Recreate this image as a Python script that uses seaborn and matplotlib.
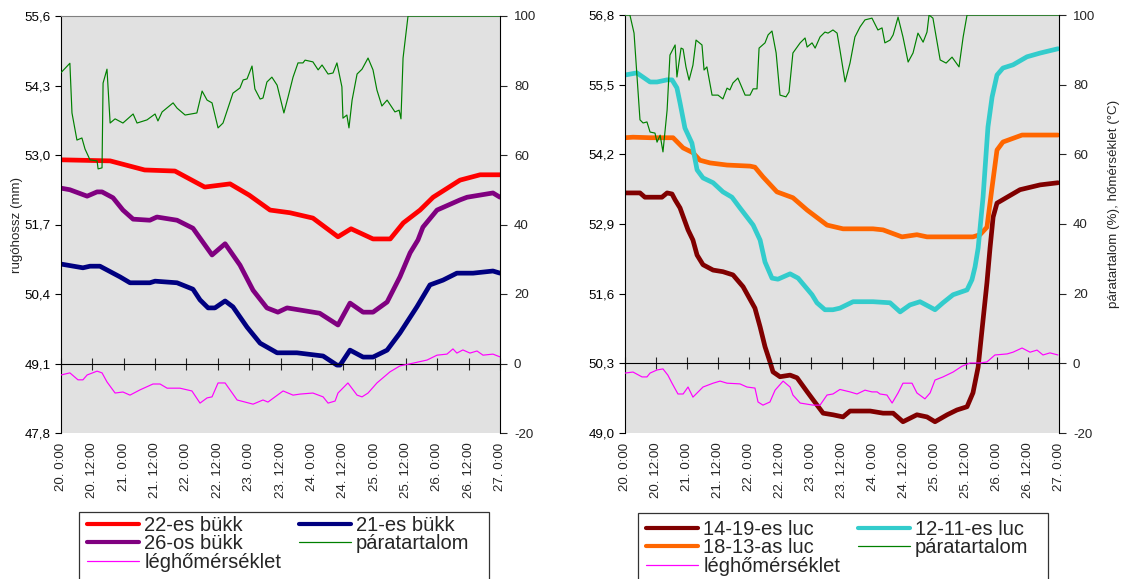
import matplotlib
matplotlib.use('Agg')
import matplotlib.pyplot as plt
import numpy as np
import seaborn as sns
from matplotlib.lines import Line2D
from matplotlib.patches import Rectangle

sns.set_style('ticks')
plt.rcParams['font.family'] = ['Liberation Sans', 'DejaVu Sans']
plt.rcParams['axes.unicode_minus'] = False

# time axis: hours from 20. 0:00
x_ticks = np.arange(0, 169, 12)
x_labels = ['20. 0:00', '20. 12:00', '21. 0:00', '21. 12:00', '22. 0:00', '22. 12:00',
            '23. 0:00', '23. 12:00', '24. 0:00', '24. 12:00', '25. 0:00', '25. 12:00',
            '26. 0:00', '26. 12:00', '27. 0:00']

left_mm_ticks = [47.8, 49.1, 50.4, 51.7, 53.0, 54.3, 55.6]
right_mm_ticks = [49.0, 50.3, 51.6, 52.9, 54.2, 55.5, 56.8]
pct_ticks = [-20, 0, 20, 40, 60, 80, 100]

# ---- left panel (bükk) ----
bukk22_h = [0, 18.8, 32, 43.6, 55, 64.7, 72, 80, 87.6, 96.4, 106, 111, 119.4, 126, 131,
            137.4, 142.4, 152.7, 160.4, 168]
bukk22_mm = [52.91, 52.89, 52.72, 52.70, 52.40, 52.46, 52.25, 51.97, 51.92, 51.82, 51.47,
             51.62, 51.43, 51.43, 51.73, 51.97, 52.21, 52.53, 52.63, 52.63]

bukk26_h = [0, 3.4, 10, 13.8, 15.7, 19.9, 23.7, 27.6, 34, 36.7, 44.4, 50.5, 55.9, 57.8,
            62.8, 68.5, 73.5, 78.8, 83, 86.5, 91.5, 99, 106, 110.6, 115.6, 119.4, 124.8,
            129.7, 133.6, 136.6, 138.5, 143.9, 152.7, 155.4, 165.3, 168]
bukk26_mm = [52.38, 52.35, 52.23, 52.31, 52.31, 52.20, 51.97, 51.80, 51.78, 51.84, 51.78,
             51.63, 51.26, 51.13, 51.34, 50.94, 50.47, 50.14, 50.06, 50.14, 50.10, 50.04,
             49.82, 50.23, 50.06, 50.06, 50.25, 50.72, 51.17, 51.41, 51.65, 51.97, 52.16,
             52.21, 52.29, 52.21]

bukk21_h = [0, 8.4, 11.1, 14.9, 22.6, 26.4, 34, 36, 44.4, 50.5, 53.2, 56.3, 58.9, 62.8,
            65.8, 71.2, 76.2, 82.7, 90.3, 100.3, 105.6, 106.8, 110.6, 115.6, 119.4, 124.8,
            129.7, 136.2, 141.2, 146.2, 151.5, 157.7, 165.3, 168]
bukk21_mm = [50.96, 50.89, 50.92, 50.92, 50.72, 50.61, 50.61, 50.64, 50.61, 50.49, 50.29,
             50.14, 50.14, 50.27, 50.16, 49.78, 49.48, 49.30, 49.30, 49.24, 49.07, 49.07,
             49.35, 49.22, 49.22, 49.35, 49.67, 50.16, 50.57, 50.66, 50.79, 50.79, 50.83,
             50.79]

para_l_h = [0, 3.4, 4.2, 6.1, 8.0, 9.2, 11.1, 13.8, 14.2, 15.7, 16.1, 17.6, 18.8, 20.7,
            23.7, 27.6, 29.1, 32.9, 36.0, 37.1, 38.7, 42.9, 44.4, 47.5, 52.0, 54.0, 55.9,
            57.8, 60.1, 62.0, 65.8, 68.5, 69.7, 71.2, 73.1, 74.2, 76.2, 77.3, 78.8, 80.7,
            82.7, 85.3, 86.9, 88.8, 90.7, 92.6, 93.4, 96.4, 98.4, 99.9, 102.2, 104.1, 105.6,
            107.5, 107.9, 109.4, 110.2, 111.4, 113.3, 115.2, 117.5, 119.4, 120.9, 122.8,
            124.8, 127.8, 129.4, 130.1, 130.9, 132.8, 168]
para_l = [83.7, 86.4, 72.1, 64.3, 64.9, 61.7, 58.6, 58.3, 56.0, 56.3, 80.7, 84.7, 69.2,
          70.4, 69.2, 71.8, 69.2, 70.1, 71.8, 69.8, 72.4, 75.0, 73.5, 71.5, 72.1, 78.4, 75.8,
          75.0, 67.8, 69.2, 77.8, 79.3, 81.6, 81.9, 85.6, 79.0, 76.1, 76.4, 81.0, 82.4, 80.1,
          72.1, 76.7, 82.4, 86.5, 86.5, 87.3, 86.8, 84.5, 85.9, 83.3, 83.6, 86.5, 79.6, 70.6,
          71.5, 67.8, 75.8, 83.3, 84.7, 87.9, 84.5, 78.7, 74.1, 75.8, 72.4, 72.9, 70.4, 87.9,
          100, 100]

leg_l_h = [0, 3.4, 6.5, 8.4, 10.0, 13.8, 15.7, 17.6, 20.7, 23.7, 26.4, 30.2, 35.2, 37.9,
           40.6, 45.5, 50.1, 53.2, 55.9, 57.8, 60.1, 62.8, 67.4, 73.5, 77.3, 79.2, 85.0,
           88.8, 91.5, 96.4, 100.3, 102.2, 104.9, 106.0, 109.8, 113.3, 115.2, 117.5, 120.9,
           125.9, 129.7, 134.7, 140.1, 143.9, 147.7, 150.0, 151.5, 153.8, 156.5, 159.2,
           161.5, 165.3, 168]
leg_l = [-3.3, -2.7, -4.7, -4.7, -3.3, -2.2, -2.7, -5.3, -8.5, -8.2, -9.1, -7.6, -5.9, -5.9,
         -7.1, -7.1, -7.9, -11.4, -9.9, -9.6, -5.6, -5.6, -10.5, -11.7, -10.5, -11.1, -7.9,
         -9.1, -8.8, -8.5, -9.6, -11.4, -10.8, -8.5, -5.6, -9.1, -9.6, -8.5, -5.6, -2.4,
         -0.7, 0.1, 1.0, 2.4, 2.7, 4.2, 3.0, 3.9, 3.0, 3.6, 2.4, 2.7, 1.9]

# ---- right panel (luc) ----
luc1419_h = [0, 5.8, 7.7, 14.3, 16.3, 18.2, 19.4, 21.3, 24.4, 26.3, 27.9, 30.2, 34.1, 37.9,
             41.8, 45.7, 50.3, 52.3, 54.2, 56.1, 57.3, 60.0, 63.9, 66.6, 70.5, 72.8, 76.7,
             80.5, 84.4, 87.1, 94.9, 99.9, 103.8, 107.6, 113.0, 116.9, 120.0, 124.7, 128.5,
             132.4, 134.7, 136.7, 138.6, 140.1, 141.3, 142.5, 144.0, 147.9, 152.9, 160.7,
             167.6]
luc1419_mm = [53.48, 53.48, 53.40, 53.40, 53.48, 53.46, 53.35, 53.20, 52.79, 52.60, 52.32,
              52.14, 52.04, 52.01, 51.95, 51.73, 51.33, 50.98, 50.61, 50.33, 50.14, 50.05,
              50.08, 50.03, 49.77, 49.62, 49.37, 49.34, 49.30, 49.41, 49.41, 49.37, 49.37,
              49.21, 49.34, 49.30, 49.21, 49.34, 49.43, 49.49, 49.75, 50.23, 51.11, 51.80,
              52.45, 53.03, 53.29, 53.40, 53.54, 53.63, 53.67]

luc1813_h = [0, 3.1, 9.7, 18.6, 22.5, 26.3, 29.0, 32.9, 39.5, 48.4, 50.3, 53.4, 58.8, 65.0,
             70.5, 78.2, 84.4, 96.0, 99.9, 107.2, 113.0, 116.9, 128.5, 134.7, 137.4, 140.1,
             142.1, 144.0, 146.3, 153.7, 167.6]
luc1813_mm = [54.51, 54.52, 54.51, 54.51, 54.32, 54.23, 54.09, 54.04, 54.00, 53.98, 53.96,
              53.78, 53.50, 53.39, 53.16, 52.88, 52.81, 52.81, 52.79, 52.66, 52.70, 52.66,
              52.66, 52.66, 52.70, 52.84, 53.59, 54.28, 54.43, 54.56, 54.56]

luc1211_h = [0, 4.6, 9.7, 12.4, 16.3, 18.2, 20.1, 21.3, 23.2, 25.9, 27.9, 30.2, 34.1, 37.9,
             41.4, 44.5, 49.6, 52.3, 54.2, 56.9, 59.2, 63.9, 67.0, 72.4, 74.3, 77.4, 80.5,
             83.2, 88.3, 96.0, 102.6, 106.5, 110.3, 114.2, 118.1, 120.0, 123.1, 127.0, 132.4,
             134.3, 135.5, 136.7, 138.6, 140.5, 142.1, 144.0, 146.3, 150.2, 155.6, 160.7, 167.6]
luc1211_mm = [55.68, 55.72, 55.55, 55.55, 55.59, 55.59, 55.44, 55.16, 54.69, 54.41, 53.91,
              53.76, 53.67, 53.50, 53.40, 53.20, 52.88, 52.60, 52.19, 51.89, 51.87, 51.97,
              51.89, 51.58, 51.43, 51.30, 51.30, 51.33, 51.45, 51.45, 51.43, 51.26, 51.39,
              51.45, 51.35, 51.30, 51.43, 51.58, 51.67, 51.86, 52.10, 52.45, 53.40, 54.71,
              55.27, 55.68, 55.81, 55.87, 56.02, 56.09, 56.17]

para_r_h = [0, 1.9, 3.5, 5.8, 7.0, 8.5, 9.7, 11.6, 12.4, 13.6, 14.7, 16.3, 17.4, 19.4, 20.1,
            21.7, 22.5, 23.6, 24.8, 26.3, 27.5, 29.8, 30.6, 31.7, 33.7, 36.0, 37.9, 39.5,
            40.6, 41.8, 43.7, 46.5, 48.4, 49.6, 51.1, 51.9, 54.2, 55.4, 56.9, 58.5, 60.0,
            62.3, 63.5, 65.0, 67.8, 69.7, 70.5, 72.4, 73.6, 75.5, 77.4, 78.6, 80.5, 82.1,
            83.2, 85.2, 87.1, 89.0, 91.0, 92.9, 95.6, 97.9, 99.5, 100.6, 102.6, 103.8, 105.7,
            107.6, 109.6, 111.5, 113.4, 115.4, 116.9, 117.7, 119.2, 122.0, 124.3, 126.6,
            129.3, 130.9, 132.4, 168]
para_r = [100, 100, 94.8, 69.9, 69.0, 69.3, 66.4, 66.1, 63.5, 65.5, 60.7, 72.7, 88.5, 91.4,
          82.2, 90.5, 90.2, 85.1, 81.3, 85.6, 92.8, 91.4, 84.2, 85.1, 77.0, 77.0, 75.9, 79.0,
          78.5, 80.5, 81.9, 77.0, 77.0, 78.8, 78.8, 90.5, 92.0, 94.3, 95.4, 89.1, 77.0, 76.5,
          77.9, 89.1, 92.0, 93.4, 90.8, 92.0, 90.5, 93.7, 95.1, 94.8, 95.7, 94.8, 90.0, 80.8,
          86.2, 93.7, 96.6, 98.6, 99.1, 95.7, 96.3, 92.0, 92.8, 94.3, 99.4, 93.7, 86.5, 89.1,
          94.8, 92.2, 95.1, 100, 99.1, 87.1, 86.2, 87.9, 85.1, 93.7, 100, 100]

leg_r_h = [0, 3.1, 6.6, 8.5, 9.7, 12.4, 14.7, 16.6, 18.2, 20.5, 22.5, 24.4, 26.3, 30.2,
           34.1, 36.8, 39.5, 44.5, 47.2, 50.3, 51.5, 53.4, 56.1, 58.1, 61.2, 63.9, 65.0,
           67.8, 72.8, 75.5, 78.2, 80.5, 83.2, 87.1, 89.8, 92.9, 95.6, 97.6, 98.7, 101.4,
           103.4, 105.7, 107.6, 111.1, 113.0, 116.1, 118.1, 120.0, 123.1, 127.0, 130.5,
           133.6, 137.4, 140.1, 143.2, 147.9, 150.2, 153.7, 156.8, 159.5, 161.8, 164.5, 167.6]
leg_r = [-2.8, -2.5, -3.9, -3.9, -2.8, -1.9, -1.6, -3.4, -5.7, -8.8, -8.8, -6.8, -9.7, -6.8,
         -5.7, -5.1, -5.7, -5.9, -6.8, -7.1, -11.1, -12.0, -11.1, -7.7, -5.1, -6.8, -9.1,
         -11.4, -12.0, -12.0, -9.1, -8.8, -7.5, -8.2, -8.8, -7.7, -8.2, -8.2, -8.8, -9.1,
         -11.4, -8.5, -5.7, -5.7, -8.5, -10.2, -8.5, -4.8, -3.9, -2.5, -0.8, 0.1, 0.1, 0.4,
         2.4, 2.7, 3.2, 4.4, 3.2, 3.8, 2.4, 3.0, 2.4]

TICK_FS = 9.6
LEG_FS = 14.5


def draw_panel(ax, mm_ticks, thick, thin, ylabel_left=None, ylabel_right=None):
    ax.set_facecolor('#E1E1E1')
    for lbl, h, vals, color in thick:
        sns.lineplot(x=h, y=vals, ax=ax, color=color, linewidth=3.4, legend=False)
    ax.set_xlim(0, 168)
    ax.set_ylim(mm_ticks[0], mm_ticks[-1])
    ax.set_yticks(mm_ticks, [f'{v:.1f}'.replace('.', ',') for v in mm_ticks])
    ax.tick_params(axis='y', direction='out', length=4, width=0.8, labelsize=TICK_FS, colors='black')
    ax.set_xticks(x_ticks)
    ax.tick_params(axis='x', direction='inout', length=8, width=0.8, labelbottom=False)
    # x axis line sits at the 0 level of the right-hand scale
    zero_mm = mm_ticks[1]
    ax.spines['bottom'].set_position(('data', zero_mm))
    ax.spines['bottom'].set_color('black')
    ax.spines['left'].set_color('black')
    ax.spines['top'].set_color('#808080')
    ax.spines['top'].set_visible(True)
    ax.spines['right'].set_visible(False)
    ax.set_xlabel('')
    if ylabel_left:
        ax.set_ylabel(ylabel_left, fontsize=TICK_FS, labelpad=1)
    else:
        ax.set_ylabel('')

    ax2 = ax.twinx()
    for lbl, h, vals, color in thin:
        sns.lineplot(x=h, y=vals, ax=ax2, color=color, linewidth=0.85, legend=False)
    ax2.set_ylim(-20, 100)
    ax2.set_yticks(pct_ticks, [str(v) for v in pct_ticks])
    ax2.tick_params(axis='y', direction='out', length=5, width=0.8, labelsize=TICK_FS, pad=5)
    ax2.xaxis.set_visible(True)
    ax2.set_xticks(x_ticks, x_labels)
    ax2.tick_params(axis='x', length=0, labelbottom=True, labelrotation=90,
                    labelsize=TICK_FS, pad=7)
    for s in ['left', 'top', 'bottom']:
        ax2.spines[s].set_visible(False)
    ax2.spines['right'].set_visible(True)
    ax2.spines['right'].set_color('black')
    ax2.set_xlabel('')
    if ylabel_right:
        ax2.set_ylabel(ylabel_right, fontsize=TICK_FS, labelpad=9)
        ax2.yaxis.label.set_y(0.548)
    else:
        ax2.set_ylabel('')
    ax2.set_xlim(0, 168)
    return ax2


fig = plt.figure(figsize=(11.29, 5.79), dpi=100)
W, H = 1129, 579
ax_l = fig.add_axes([61 / W, (H - 433) / H, 439 / W, 417 / H])
ax_r = fig.add_axes([625 / W, (H - 433) / H, 434 / W, 418 / H])

left_thick = [('22-es bükk', bukk22_h, bukk22_mm, '#FF0000'),
              ('26-os bükk', bukk26_h, bukk26_mm, '#800080'),
              ('21-es bükk', bukk21_h, bukk21_mm, '#000080')]
left_thin = [('páratartalom', para_l_h, para_l, '#008000'),
             ('léghőmérséklet', leg_l_h, leg_l, '#FF00FF')]
right_thick = [('14-19-es luc', luc1419_h, luc1419_mm, '#800000'),
               ('18-13-as luc', luc1813_h, luc1813_mm, '#FF6600'),
               ('12-11-es luc', luc1211_h, luc1211_mm, '#33CCCC')]
right_thin = [('páratartalom', para_r_h, para_r, '#008000'),
              ('léghőmérséklet', leg_r_h, leg_r, '#FF00FF')]

draw_panel(ax_l, left_mm_ticks, left_thick, left_thin, ylabel_left='rugóhossz (mm)')
draw_panel(ax_r, right_mm_ticks, right_thick, right_thin,
           ylabel_right='páratartalom (%), hőmérséklet (°C)')


def add_legend(thick, thin, x_handle, top_px, box_left, box_right, box_top):
    # column-major order: col 1 = thick[0], thick[1], thin[1]; col 2 = thick[2], thin[0]
    order = [thick[0], thick[1], thin[1], thick[2], thin[0]]
    handles, labels = [], []
    for item in order:
        lbl, h, vals, color = item
        lw = 0.9 if item in thin else 3.0
        handles.append(Line2D([], [], color=color, linewidth=lw))
        labels.append(lbl)
    fig.legend(handles, labels, loc='upper left',
               bbox_to_anchor=(x_handle / W, (H - top_px) / H), ncol=2, frameon=False,
               fontsize=LEG_FS, handlelength=2.6, handletextpad=0.25, columnspacing=0.85,
               labelspacing=-0.03, borderpad=0, borderaxespad=0)
    fig.add_artist(Rectangle((box_left / W, -0.05), (box_right - box_left) / W,
                             (H - box_top) / H + 0.05, transform=fig.transFigure,
                             fill=False, edgecolor='#333333', linewidth=0.9))


add_legend(left_thick, left_thin, 87, 516, 79, 489, 512)
add_legend(right_thick, right_thin, 646, 520, 638, 1048, 513)

fig.savefig('out.png', dpi=100)
